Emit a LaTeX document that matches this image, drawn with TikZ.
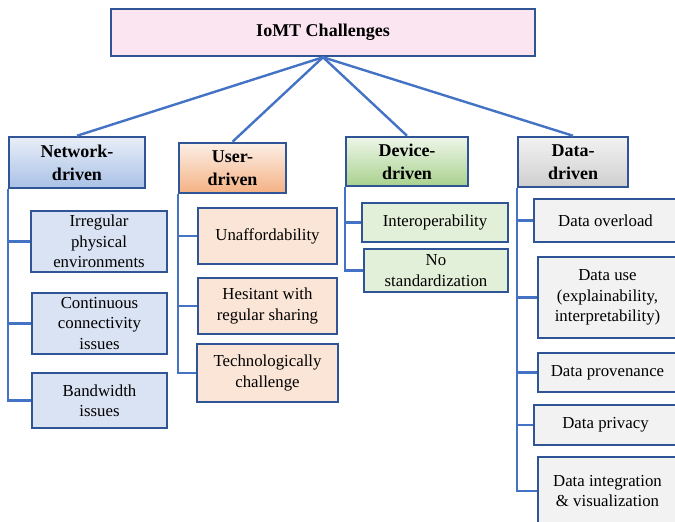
\documentclass[tikz,border=0pt]{standalone}
\usepackage{fontspec}
\setmainfont{Liberation Serif}
\definecolor{edge}{HTML}{2F5597}
\definecolor{wire}{HTML}{4472C4}
\definecolor{pinkfill}{HTML}{FBE5F0}
\definecolor{netfill}{HTML}{DAE3F3}
\definecolor{userfill}{HTML}{FBE5D6}
\definecolor{devfill}{HTML}{E2F0D9}
\definecolor{datafill}{HTML}{F2F2F2}
\tikzset{
  box/.style={draw=edge, line width=2.5pt, inner sep=0pt, align=center,
    font=\fontsize{16.8}{20.5}\selectfont},
  head/.style={box, font=\fontsize{18}{23}\selectfont\bfseries},
  link/.style={wire, line width=2.4pt},
}

\begin{document}
\begin{tikzpicture}[x=1pt, y=-1pt]
\useasboundingbox (0,0) rectangle (675,522);
\clip (0,0) rectangle (675,522);
% Root
    \node[head, fill=pinkfill, minimum width=424, minimum height=47] (root) at (323,32.5) {IoMT Challenges};
% Categories
    \node[head, top color=netfill!60, bottom color={rgb,255:red,169;green,193;blue,230}, minimum width=136, minimum height=51] (net) at (77,162.5) {Network-\\driven};
    \node[head, top color=userfill!60, bottom color={rgb,255:red,244;green,177;blue,131}, minimum width=107, minimum height=50] (user) at (232.5,168) {User-\\driven};
    \node[head, top color=devfill!60, bottom color={rgb,255:red,169;green,209;blue,142}, minimum width=122, minimum height=49] (dev) at (407,161.5) {Device-\\driven};
    \node[head, top color=datafill, bottom color={rgb,255:red,207;green,207;blue,207}, minimum width=110, minimum height=50] (data) at (573,162) {Data-\\driven};
% Network-driven items
    \node[box, fill=netfill, minimum width=136, minimum height=61] (irr) at (99,241.5) {Irregular\\physical\\environments};
    \node[box, fill=netfill, minimum width=135, minimum height=61] (cont) at (99.5,323.5) {Continuous\\connectivity\\issues};
    \node[box, fill=netfill, minimum width=135, minimum height=55] (bw) at (99.5,400.5) {Bandwidth\\issues};
% User-driven items
    \node[box, fill=userfill, minimum width=139, minimum height=56] (unaf) at (267.5,236) {Unaffordability};
    \node[box, fill=userfill, minimum width=139, minimum height=56] (hes) at (267.5,306) {Hesitant with\\regular sharing};
    \node[box, fill=userfill, minimum width=141, minimum height=58] (tech) at (267.5,373) {Technologically\\challenge};
% Device-driven items
    \node[box, fill=devfill, minimum width=146, minimum height=39] (interop) at (435,222.5) {Interoperability};
    \node[box, fill=devfill, minimum width=144, minimum height=43] (nostd) at (436,270.5) {No\\standardization};
% Data-driven items
    \node[box, fill=datafill, minimum width=143, minimum height=43] (over) at (605.5,220.5) {Data overload};
    \node[box, fill=datafill, minimum width=139, minimum height=81] (use) at (607.5,297.5) {Data use\\(explainability,\\interpretability)};
    \node[box, fill=datafill, minimum width=139, minimum height=39] (prov) at (607.5,372.5) {Data provenance};
    \node[box, fill=datafill, minimum width=143, minimum height=40] (priv) at (605.5,425) {Data privacy};
    \node[box, fill=datafill, minimum width=139, minimum height=68] (integ) at (607.5,491) {Data integration\\\& visualization};
% Links
    \foreach \c in {net,user,dev,data}
        \draw[link] (root.south) -- (\c.north);
    \foreach \i in {irr,cont,bw}
        \draw[link] (net.south west) |- (\i.west);
    \foreach \i in {unaf,hes,tech}
        \draw[link] (user.south west) |- (\i.west);
    \foreach \i in {interop,nostd}
        \draw[link] (dev.south west) |- (\i.west);
    \foreach \i in {over,use,prov,priv,integ}
        \draw[link] (data.south west) |- (\i.west);
\end{tikzpicture}
\end{document}
